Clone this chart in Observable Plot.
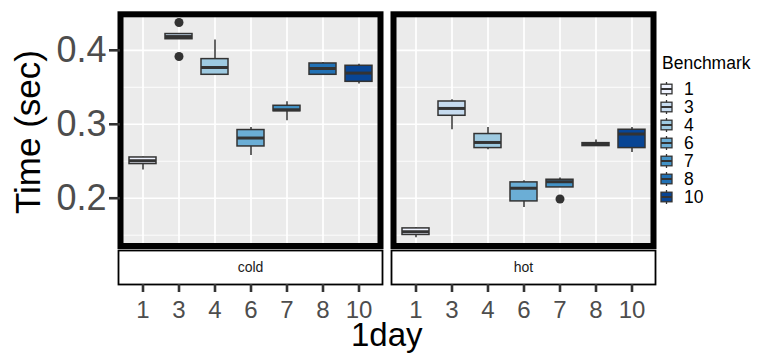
<!DOCTYPE html>
<html><head><meta charset="utf-8">
<script src="https://cdn.jsdelivr.net/npm/d3@7"></script>
<script src="https://cdn.jsdelivr.net/npm/@observablehq/plot@0.6"></script>
<style>
body{margin:0;background:#fff;font-family:"Liberation Sans",Arial,sans-serif;}
#wrap{position:relative;width:758px;height:354px;overflow:hidden;}
</style></head><body><div id="wrap"></div>
<script>
// ---- data ----
const benchmarks = ["1","3","4","6","7","8","10"];
const temps = ["cold","hot"];
const blues = ["#EFF3FF","#C6DBEF","#9ECAE1","#6BAED6","#4292C6","#2171B5","#084594"];

const coldLow  = [0.2381, 0.4150, 0.3660, 0.2578, 0.3047, 0.3665, 0.3543];
const coldQ1   = [0.2462, 0.4150, 0.3669, 0.2700, 0.3176, 0.3669, 0.3574];
const coldMed  = [0.2507, 0.4186, 0.3768, 0.2814, 0.3196, 0.3754, 0.3692];
const coldQ3   = [0.2551, 0.4220, 0.3881, 0.2922, 0.3250, 0.3822, 0.3791];
const coldHigh = [0.2558, 0.4220, 0.4138, 0.2957, 0.3304, 0.3835, 0.3813];

const hotLow  = [0.1466, 0.2926, 0.2655, 0.1876, 0.2146, 0.2705, 0.2619];
const hotQ1   = [0.1503, 0.3115, 0.2678, 0.1957, 0.2146, 0.2705, 0.2678];
const hotMed  = [0.1547, 0.3214, 0.2754, 0.2135, 0.2223, 0.2727, 0.2868];
const hotQ3   = [0.1592, 0.3308, 0.2868, 0.2214, 0.2250, 0.2745, 0.2926];
const hotHigh = [0.1600, 0.3331, 0.2957, 0.2236, 0.2273, 0.2786, 0.2957];

const outlierTemp  = ["cold", "cold", "hot"];
const outlierBench = ["3", "3", "7"];
const outlierValue = [0.4376, 0.3916, 0.1989];

const yMajor = [0.2, 0.3, 0.4];
const yMinor = [0.15, 0.25, 0.35];
const yDomain = [0.1354, 0.4487];

// ---- table built from the arrays ----
const stats = {
  cold: [coldLow, coldQ1, coldMed, coldQ3, coldHigh],
  hot: [hotLow, hotQ1, hotMed, hotQ3, hotHigh]
};
const rows = [];
temps.forEach(t => benchmarks.forEach((b, i) => {
  const [lo, q1, med, q3, hi] = stats[t];
  rows.push({temp: t, bench: b, lo: lo[i], q1: q1[i], med: med[i], q3: q3[i], hi: hi[i]});
}));
const outliers = outlierValue.map((v, i) => ({temp: outlierTemp[i], bench: outlierBench[i], value: v}));

const FRAME_H = 354 - 13.8 - 108.5;
const FONT = "'Liberation Sans', Arial, sans-serif";

const chart = Plot.plot({
  width: 758,
  height: 354,
  marginLeft: 120,
  marginRight: 104.5,
  marginTop: 13.8,
  marginBottom: 108.5,
  style: {fontFamily: FONT, background: "white", overflow: "visible"},
  fx: {domain: temps, paddingInner: 0.0494, paddingOuter: 0, axis: null},
  x: {domain: benchmarks, type: "band", paddingInner: 0.25, paddingOuter: 0.193, axis: null},
  y: {domain: yDomain, axis: null},
  color: {domain: benchmarks, range: blues},
  marks: [
    Plot.frame({fill: "#EBEBEB"}),
    Plot.ruleY(yMinor, {y: d => d, stroke: "white", strokeWidth: 0.9}),
    Plot.ruleY(yMajor, {y: d => d, stroke: "white", strokeWidth: 1.7}),
    Plot.ruleX(benchmarks, {x: d => d, stroke: "white", strokeWidth: 1.7}),
    // whiskers
    Plot.ruleX(rows, {fx: "temp", x: "bench", y1: "lo", y2: "hi", stroke: "#333333", strokeWidth: 1.5}),
    // boxes
    Plot.barY(rows, {fx: "temp", x: "bench", y1: "q1", y2: "q3", fill: "bench", stroke: "#333333", strokeWidth: 1.5}),
    // medians
    Plot.tickY(rows, {fx: "temp", x: "bench", y: "med", stroke: "#333333", strokeWidth: 3}),
    // outliers
    Plot.dot(outliers, {fx: "temp", x: "bench", y: "value", r: 4.5, fill: "#333333", stroke: null}),
    // panel border
    Plot.frame({stroke: "black", strokeWidth: 6}),
    // strips below panels
    Plot.frame({fill: "white", stroke: "black", strokeWidth: 1.8,
      insetTop: FRAME_H + 4.5, insetBottom: -38.5, insetLeft: -2, insetRight: -2}),
    Plot.text(temps, {fx: d => d, text: d => d, frameAnchor: "bottom", lineAnchor: "middle", dy: 21.8,
      fontSize: 14, fill: "#1A1A1A"}),
    // x axis ticks and labels (below strips)
    Plot.ruleX(benchmarks, {x: d => d, stroke: "#333333", strokeWidth: 2.6,
      insetTop: FRAME_H + 38.5, insetBottom: -46.5}),
    Plot.text(benchmarks, {x: d => d, text: d => d, frameAnchor: "bottom", lineAnchor: "middle", dy: 64,
      fontSize: 24, fill: "#4D4D4D"}),
    // y axis (left panel only)
    Plot.ruleY(yMajor, {fx: () => "cold", y: d => d, stroke: "#333333", strokeWidth: 2.6,
      insetLeft: -11, insetRight: 260}),
    Plot.text(yMajor, {fx: () => "cold", y: d => d, text: d => d.toFixed(1), frameAnchor: "left",
      lineAnchor: "middle", dx: -14, textAnchor: "end", fontSize: 36, fill: "#4D4D4D"})
  ]
});

document.getElementById("wrap").appendChild(chart);

const svg = d3.select(chart);

// y-axis title
svg.append("text")
  .attr("transform", "translate(40,132) rotate(-90)")
  .attr("text-anchor", "middle")
  .attr("font-family", FONT)
  .attr("font-size", 35)
  .attr("fill", "black")
  .text("Time (sec)");

// x-axis title
svg.append("text")
  .attr("x", 386.75).attr("y", 346)
  .attr("text-anchor", "middle")
  .attr("font-family", FONT)
  .attr("font-size", 33)
  .attr("fill", "black")
  .text("1day");

// legend with box-plot keys, colored through the plot's color scale
const color = chart.scale("color");
const lg = svg.append("g").attr("font-family", FONT).attr("text-anchor", "start");
lg.append("text").attr("x", 662).attr("y", 69).attr("font-size", 17.5)
  .attr("text-anchor", "start").attr("fill", "black").text("Benchmark");
benchmarks.forEach((b, i) => {
  const cy = 89 + i * 18;
  const g = lg.append("g");
  g.append("line").attr("x1", 666.5).attr("x2", 666.5).attr("y1", cy - 7).attr("y2", cy + 7)
    .attr("stroke", "#333333").attr("stroke-width", 1.3);
  g.append("rect").attr("x", 661).attr("y", cy - 4.8).attr("width", 11).attr("height", 9.6)
    .attr("fill", color.apply(b)).attr("stroke", "#333333").attr("stroke-width", 1.3);
  g.append("line").attr("x1", 661).attr("x2", 672).attr("y1", cy).attr("y2", cy)
    .attr("stroke", "#333333").attr("stroke-width", 2);
  g.append("text").attr("x", 684).attr("y", cy).attr("dy", "0.36em").attr("font-size", 17.5)
    .attr("text-anchor", "start").attr("fill", "black").text(b);
});
</script></body></html>
